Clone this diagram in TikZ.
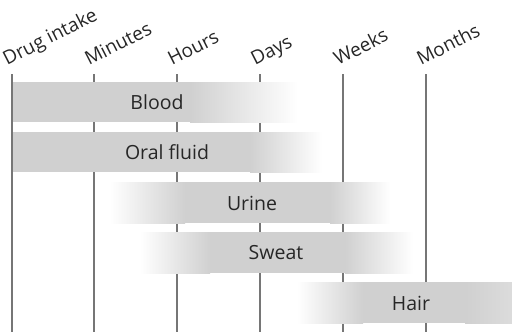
\documentclass[tikz,border=0pt]{standalone}
\usepackage{fontspec}
\setmainfont{Open Sans}
\definecolor{bargray}{RGB}{208,208,208}
\definecolor{axisgray}{RGB}{118,118,118}
\definecolor{inkgray}{RGB}{38,38,38}
\begin{document}
\begin{tikzpicture}[x=1pt, y=-1pt,
    timeline/.style={draw=axisgray, line width=1.3pt},
    period/.style={anchor=base west, rotate=27, inner sep=0pt, text=inkgray, font=\fontsize{19}{23}\selectfont},
    matrixlabel/.style={inner sep=0pt, text=inkgray, font=\fontsize{19.5}{23}\selectfont}]
  \useasboundingbox (0,0) rectangle (512,332);
  \foreach \x/\name/\lbl in {12/intake/Drug intake, 94/minutes/Minutes, 177/hours/Hours,
                             260/days/Days, 343/weeks/Weeks, 426/months/Months} {
    \coordinate (\name top) at (\x,74);
    \coordinate (\name bot) at (\x,332);
    \draw[timeline] (\name top) -- (\name bot);
    \node[period] (\name) at (\x-5,66) {\lbl};
  }
  \fill[bargray] (12.7,82) rectangle (190,122);
  \shade[left color=bargray, right color=white] (190,82) rectangle (298,122);
  \node[matrixlabel] (blood) at (157,102) {Blood};
  \fill[bargray] (12.7,132) rectangle (250,172);
  \shade[left color=bargray, right color=white] (250,132) rectangle (322,172);
  \node[matrixlabel] (oral) at (167,152) {Oral fluid};
  \shade[left color=white, right color=bargray] (110,182) rectangle (185,223);
  \fill[bargray] (185,182) rectangle (330,223);
  \shade[left color=bargray, right color=white] (330,182) rectangle (390,223);
  \node[matrixlabel] (urine) at (252,203) {Urine};
  \shade[left color=white, right color=bargray] (140,232) rectangle (210,273);
  \fill[bargray] (210,232) rectangle (345,273);
  \shade[left color=bargray, right color=white] (345,232) rectangle (413,273);
  \node[matrixlabel] (sweat) at (276,253) {Sweat};
  \shade[left color=white, right color=bargray] (297,282) rectangle (363,323);
  \fill[bargray] (363,282) rectangle (465,323);
  \shade[left color=bargray, right color=bargray!75!white] (465,282) rectangle (512,323);
  \node[matrixlabel] (hair) at (411,303) {Hair};
\end{tikzpicture}
\end{document}
